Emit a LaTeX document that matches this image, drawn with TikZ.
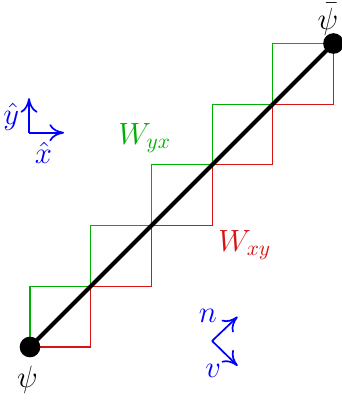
\documentclass[tikz,border=0pt]{standalone}
\usetikzlibrary{arrows.meta, positioning, backgrounds}
\definecolor{cgreen}{RGB}{0,175,0}
\definecolor{cred}{RGB}{215,20,20}
\tikzset{
  every picture/.style={font=\Large},
  dot/.style={circle, fill=black, inner sep=0pt, minimum size=0.34cm},
  axis/.style={-{To[length=2.4mm, width=2.8mm]}, draw=blue, line width=0.8pt},
  wline/.style={draw=#1, line width=0.5pt},
  lbl/.style={text=#1, inner sep=1pt},
  lbl/.default=black,
}

\begin{document}
\begin{tikzpicture}
  \useasboundingbox (-0.494,-0.873) rectangle (5.14,5.717);
  \node[dot] (psi) at (0,0) {};
  \node[dot] (psibar) at (5,5) {};
  % the two staircases, under the dots
  \begin{scope}[on background layer]
    \draw[wline=cgreen] (psi.center) \foreach \i in {1,...,5} { |- ++(1,1) };
    \draw[wline=cred] (psi.center) \foreach \i in {1,...,5} { -| ++(1,1) };
    \draw[line width=1.9pt] (psi.center) -- (psibar.center);
  \end{scope}
  \node[lbl, below=0.1cm of psi, xshift=-0.04cm] (psilbl) {$\psi$};
  \node[lbl, above=-0.08cm of psibar, xshift=-0.09cm] (psibarlbl) {$\bar{\psi}$};
  \node[lbl=cgreen] (wyx) at (1.89,3.44) {$W_{yx}$};
  \node[lbl=cred] (wxy) at (3.54,1.68) {$W_{xy}$};
  % axes
  \coordinate (o1) at (-0.016,3.53);
  \coordinate (xt) at (0.56,3.53);
  \coordinate (yt) at (-0.016,4.10);
  \draw[axis] (o1) -- (xt);
  \draw[axis] (o1) -- (yt);
  \node[lbl=blue] (yhat) at (-0.31,3.79) {$\hat{y}$};
  \node[lbl=blue] (xhat) at (0.22,3.20) {$\hat{x}$};
  \coordinate (o2) at (3.0,0.10);
  \coordinate (nt) at (3.42,0.50);
  \coordinate (vt) at (3.42,-0.31);
  \draw[axis] (o2) -- (nt);
  \draw[axis] (o2) -- (vt);
  \node[lbl=blue] (nlbl) at (2.93,0.52) {$n$};
  \node[lbl=blue] (vlbl) at (3.02,-0.40) {$v$};
\end{tikzpicture}
\end{document}
